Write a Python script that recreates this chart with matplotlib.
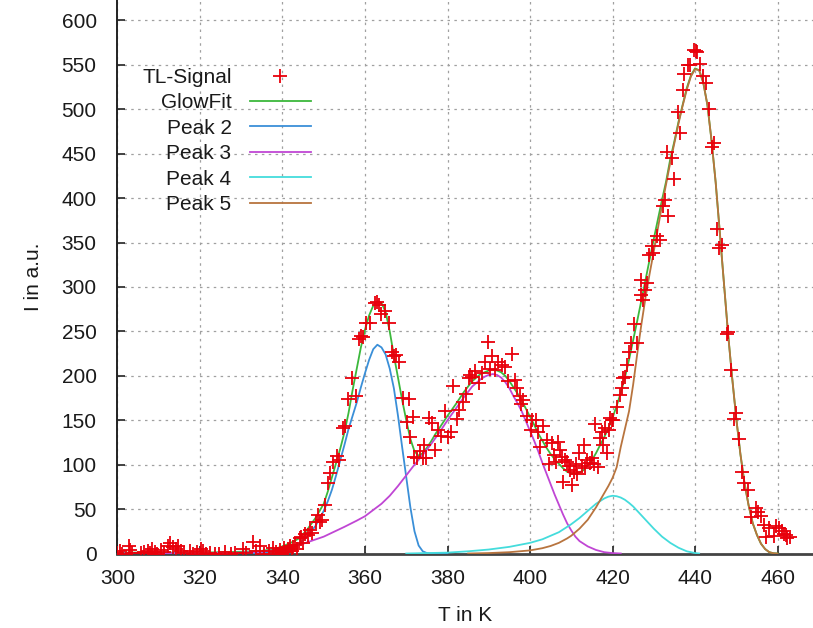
import matplotlib
matplotlib.use("Agg")
import matplotlib.pyplot as plt
import numpy as np

plt.rcParams['font.family'] = ['Liberation Sans', 'DejaVu Sans']

# measured TL glow curve
signal_T = [300.0, 300.5, 301.2, 302.8, 303.1, 303.5, 305.8, 306.4, 307.4, 307.9, 308.3, 309.0,
            309.6, 310.5, 311.2, 312.3, 312.8, 313.4, 314.2, 314.7, 315.3, 316.2, 317.5, 318.3,
            319.2, 320.2, 320.8, 321.5, 322.4, 323.6, 324.5, 326.1, 327.4, 328.5, 330.5, 331.2,
            332.8, 333.5, 334.6, 335.4, 336.8, 337.8, 338.4, 338.9, 339.5, 340.0, 340.4, 340.9,
            341.3, 341.8, 342.2, 342.6, 343.1, 343.5, 344.2, 344.6, 345.0, 345.5, 346.1, 346.7,
            347.1, 348.1, 348.5, 349.1, 349.5, 350.3, 351.1, 351.5, 352.2, 353.1, 353.8, 354.6,
            355.2, 356.0, 356.8, 357.8, 358.6, 359.0, 359.4, 360.2, 361.2, 362.4, 363.0, 363.5,
            364.0, 364.9, 365.7, 366.5, 367.0, 367.5, 368.3, 369.3, 370.1, 370.6, 370.9, 371.6,
            372.0, 372.5, 373.3, 374.0, 374.4, 374.9, 375.5, 376.2, 377.0, 377.8, 378.4, 379.4,
            380.2, 380.9, 381.4, 382.2, 382.8, 383.8, 384.6, 385.1, 385.5, 385.9, 386.7, 387.6,
            388.4, 389.1, 389.9, 390.4, 390.9, 391.5, 392.3, 393.1, 393.9, 394.7, 395.7, 396.4,
            396.8, 397.6, 397.8, 398.4, 399.2, 400.2, 400.6, 401.4, 402.0, 402.4, 403.2, 404.0,
            404.5, 405.3, 405.9, 406.4, 406.9, 407.3, 407.7, 408.1, 408.5, 408.9, 409.4, 409.7,
            410.3, 410.7, 411.1, 411.5, 411.9, 412.5, 413.0, 413.3, 413.8, 414.5, 415.0, 415.4,
            415.8, 416.6, 417.0, 417.4, 417.8, 418.3, 418.6, 419.2, 419.4, 419.8, 420.2, 421.2,
            421.8, 422.2, 422.6, 423.0, 423.4, 423.9, 424.5, 425.3, 425.9, 426.8, 427.0, 427.4,
            427.9, 428.4, 428.9, 429.6, 429.9, 430.8, 431.4, 432.2, 432.8, 433.2, 433.5, 434.3,
            435.0, 435.8, 436.3, 437.1, 437.4, 438.3, 438.8, 439.8, 440.2, 440.6, 441.2, 442.0,
            442.6, 443.4, 444.0, 444.6, 445.3, 445.9, 446.6, 447.7, 448.0, 448.7, 449.4, 449.9,
            450.7, 451.3, 451.9, 452.8, 453.6, 454.8, 455.3, 456.0, 456.8, 457.2, 458.0, 459.1,
            459.6, 460.4, 461.2, 461.6, 462.0, 462.4, 463.1]
signal_I = [1, 3, 0, 8, 4, 1, 1, 2, 3, 1, 5, 2,
            0, 4, 2, 9, 12, 7, 5, 9, 3, 1, 3, 0,
            2, 5, 3, 0, 1, 0, 0, 2, 0, 1, 5, 1,
            13, 3, 9, 0, 3, 6, 2, 0, 4, 1, 6, 2,
            5, 8, 3, 7, 10, 5, 17, 19, 12, 22, 21, 26,
            23, 35, 43, 36, 38, 55, 79, 91, 103, 110, 105, 141,
            144, 174, 197, 177, 241, 245, 244, 259, 260, 282, 283, 280,
            270, 273, 259, 227, 222, 224, 216, 175, 148, 174, 131, 154,
            109, 108, 115, 108, 122, 107, 152, 147, 117, 139, 132, 160,
            131, 137, 189, 151, 162, 171, 180, 198, 201, 199, 205, 192,
            203, 216, 238, 208, 222, 207, 216, 212, 210, 194, 225, 195,
            186, 177, 168, 173, 155, 139, 150, 150, 137, 120, 143, 128,
            101, 124, 111, 103, 126, 117, 109, 81, 105, 103, 98, 94,
            77, 92, 101, 90, 113, 98, 122, 96, 105, 102, 107, 101,
            146, 97, 130, 137, 122, 141, 113, 139, 152, 150, 150, 165,
            178, 186, 197, 199, 212, 227, 237, 258, 237, 291, 308, 285,
            297, 304, 336, 346, 338, 357, 353, 391, 398, 452, 380, 445,
            422, 497, 473, 522, 540, 550, 550, 567, 566, 565, 551, 538,
            530, 500, 458, 462, 365, 344, 347, 247, 249, 207, 151, 158,
            129, 92, 79, 72, 41, 51, 47, 42, 32, 19, 29, 20,
            31, 29, 25, 22, 21, 17, 19]

# GlowFit sum curve
glow_T = [300, 310, 320, 330, 335, 338, 340, 342, 344, 346, 348, 350, 351, 352, 353, 354, 355,
          356, 357, 358, 359, 360, 361, 362, 363, 364, 365, 366, 367, 368, 369, 370, 371, 372,
          373, 374, 375, 376, 377, 378, 380, 382, 384, 386, 388, 390, 391, 392, 393, 394, 395,
          396, 397, 398, 399, 400, 401, 402, 403, 404, 405, 406, 407, 408, 409, 410, 411, 412,
          413, 414, 415, 416, 417, 418, 419, 420, 421, 422, 423, 424, 425, 426, 427, 428, 429,
          430, 431, 432, 433, 434, 435, 436, 437, 438, 439, 440, 441, 442, 443, 444, 445, 446,
          447, 448, 449, 450, 451, 452, 453, 454, 455, 456, 457, 458, 459, 460]
glow_I = [1, 1, 1, 2, 3, 5, 8, 12, 17, 27, 40, 56, 70, 86, 102, 118, 136,
          158, 184, 208, 232, 252, 268, 279, 284, 282, 272, 250, 223, 198, 173, 150, 129, 115,
          110, 113, 119, 126, 134, 141, 155, 168, 182, 194, 202, 206, 207, 206, 204, 200, 194,
          187, 180, 172, 163, 154, 145, 135, 127, 119, 112, 106, 101, 96, 92, 90, 90, 91,
          94, 99, 105, 113, 122, 131, 141, 153, 166, 181, 198, 218, 240, 262, 285, 308, 331,
          354, 376, 398, 419, 444, 464, 486, 505, 524, 538, 546, 544, 530, 505, 465, 418, 362,
          305, 248, 198, 152, 112, 79, 54, 34, 21, 11, 5, 1.5, 0.3, 0]

peak2_T = [300, 330, 335, 338, 340, 342, 344, 346, 348, 350, 351, 352, 353, 354, 355, 356, 357,
           358, 359, 360, 361, 362, 363, 364, 365, 366, 367, 368, 369, 370, 371, 372, 373, 374,
           375, 376, 380]
peak2_I = [0, 0, 0.5, 1.5, 3, 6, 11, 19, 31, 48, 59, 72, 88, 105, 122, 140, 155,
           170, 187, 203, 218, 230, 235, 232, 224, 208, 186, 155, 120, 86, 52, 25, 9, 2.5,
           0.5, 0, 0]

peak3_T = [300, 320, 325, 330, 335, 340, 345, 350, 355, 358, 360, 362, 364, 366, 368, 370, 372,
           374, 376, 378, 380, 382, 384, 386, 388, 389, 390, 391, 392, 393, 394, 395, 396, 397,
           398, 399, 400, 401, 402, 403, 404, 405, 406, 407, 408, 409, 410, 411, 412, 413, 414,
           415, 416, 418, 420, 422]
peak3_I = [0, 0.3, 0.5, 1, 2, 5, 11, 19, 30, 37, 42, 49, 56, 65, 76, 88, 100,
           111, 123, 136, 150, 163, 176, 188, 196, 199, 201, 202, 201, 198, 193, 186, 177, 169,
           160, 149, 138, 127, 115, 102, 90, 78, 66, 55, 44, 34, 26, 19, 14, 11, 8,
           6, 4, 1.5, 0.5, 0]

peak4_T = [370, 375, 380, 385, 390, 395, 400, 403, 405, 407, 408, 410, 412, 414, 416, 417, 418,
           419, 420, 421, 422, 423, 424, 425, 426, 428, 430, 432, 434, 436, 438, 440, 441]
peak4_I = [0, 0.5, 1, 2.5, 4.5, 7.5, 12, 16, 20, 24, 27, 33, 40, 48, 56, 59, 62,
           64, 65, 64.5, 63, 60.5, 57, 53, 48, 38, 28, 19, 12, 6.5, 2.5, 0.5, 0]

peak5_T = [385, 390, 395, 400, 403, 405, 407, 409, 410, 411, 412, 413, 414, 415, 416, 417, 418,
           419, 420, 421, 422, 423, 424, 425, 426, 427, 428, 429, 430, 431, 432, 433, 434, 435,
           436, 437, 438, 439, 440, 441, 442, 443, 444, 445, 446, 447, 448, 449, 450, 451, 452,
           453, 454, 455, 456, 457, 458, 459, 460]
peak5_I = [0, 0.5, 1.5, 3.5, 6, 8.5, 12, 17, 20, 24, 28, 33, 38, 45, 52, 60, 68,
           76, 85, 97, 120, 140, 160, 190, 225, 258, 288, 315, 340, 366, 392, 416, 440, 462,
           484, 504, 522, 537, 545, 544, 530, 505, 465, 418, 362, 305, 248, 198, 152, 112, 79,
           54, 34, 21, 11, 5, 1.5, 0.3, 0]

fig = plt.figure(figsize=(8.13, 6.28), dpi=100, facecolor='w')
ax = fig.add_axes([0.1445, 0.1186, 0.8555, 0.8814])

txt = '#1a1a1a'
fs = 15
ax.plot(signal_T, signal_I, '+', color='#e8000b', markersize=9.5, markeredgewidth=1.3,
        label='TL-Signal', zorder=5)
ax.plot(glow_T, glow_I, color='#3cb83c', lw=1.3, label='GlowFit', zorder=3)
ax.plot(peak2_T, peak2_I, color='#3a8fd8', lw=1.3, label='Peak 2', zorder=3)
ax.plot(peak3_T, peak3_I, color='#c046d4', lw=1.3, label='Peak 3', zorder=3)
ax.plot(peak4_T, peak4_I, color='#44dcdc', lw=1.3, label='Peak 4', zorder=3)
ax.plot(peak5_T, peak5_I, color='#b8743e', lw=1.3, label='Peak 5', zorder=3)

ax.set_xlim(300, 468.6)
ax.set_ylim(0, 623)
ax.set_xticks(np.arange(300, 461, 20))
ax.set_yticks(np.arange(0, 601, 50))

ax.grid(True, color='#a0a0a0', linestyle=(0, (2, 3.5)), linewidth=0.9)
ax.set_axisbelow(True)
for s in ['top', 'right']:
    ax.spines[s].set_visible(False)
ax.spines['left'].set_linewidth(1.4)
ax.spines['left'].set_color('#222222')
ax.spines['bottom'].set_linewidth(2.0)
ax.spines['bottom'].set_color('#444444')

ax.tick_params(axis='both', direction='in', length=6, width=1.2, colors='#222222',
               labelsize=fs, labelcolor=txt)
ax.tick_params(axis='x', pad=11)
ax.tick_params(axis='y', pad=15)

ax.set_xlabel('T in K', fontsize=fs, color=txt, labelpad=13)
ax.set_ylabel('I in a.u.', fontsize=fs, color=txt, labelpad=13)

leg = ax.legend(loc='upper right', bbox_to_anchor=(0.2778, 0.8775), markerfirst=False,
                frameon=False, fontsize=fs, handlelength=2.9, handletextpad=0.9,
                labelspacing=0.31, borderpad=0, borderaxespad=0, numpoints=1)
for t in leg.get_texts():
    t.set_color(txt)

fig.savefig('out.png', dpi=100)
